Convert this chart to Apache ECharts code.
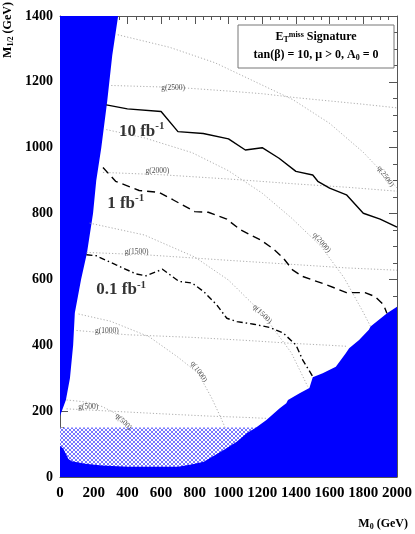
<!DOCTYPE html>
<html>
<head>
<meta charset="utf-8">
<script src="https://cdn.jsdelivr.net/npm/echarts@6/dist/echarts.min.js"></script>
<style>
html,body{margin:0;padding:0;background:#fff}
#main{width:415px;height:534px}
</style>
</head>
<body>
<div id="main"></div>
<script>
// excluded regions (M0, M1/2)
var leftRegion = [[0,1400],[345,1400],[310,1280],[280,1140],[245,1000],[215,900],[196,800],[160,680],[125,600],[88,498],[78,400],[59,300],[35,234],[0,185]];
var bottomRegion = [[0,0],[0,95],[20,86],[35,70],[50,55],[70,48],[150,40],[250,35],[400,31],[700,31],[780,38],[853,46],[971,82],[1049,107],[1108,133],[1166,151],[1225,173],[1304,209],[1343,224],[1353,234],[1422,254],[1480,270],[1500,303],[1559,315],[1637,335],[1696,376],[1716,391],[1775,416],[1833,447],[1843,457],[1941,497],[2000,517],[2000,0]];
var hatchRegion = [[0,0],[0,150],[1200,150],[1200,0]];

// discovery reach
var lumi10 = [[275,1130],[400,1118],[600,1110],[700,1049],[850,1043],[1000,1027],[1100,993],[1200,1000],[1300,968],[1400,928],[1500,917],[1530,898],[1600,877],[1700,857],[1800,801],[1900,783],[2000,759]];
var lumi1 = [[255,940],[330,898],[470,870],[590,864],[670,842],[800,806],[880,804],[990,783],[1070,751],[1190,720],[1265,693],[1325,665],[1380,629],[1440,609],[1580,584],[1700,560],[1810,560],[1870,548],[1920,523],[1940,497]];
var lumi01 = [[157,675],[215,672],[333,644],[450,617],[510,611],[608,631],[706,594],[784,589],[853,563],[930,523],[990,482],[1050,472],[1150,464],[1245,454],[1325,437],[1400,401],[1440,356],[1500,305]];

// gluino / squark mass contours
var g2500 = [[304,1189],[700,1183],[1000,1172],[1200,1164],[1400,1152],[1600,1142],[1800,1132],[2000,1121]];
var g2000 = [[255,925],[600,918],[1000,905],[1400,890],[1700,880],[2000,868]];
var g1500 = [[157,682],[500,675],[1000,658],[1400,645],[1700,635],[2000,628]];
var g1000 = [[98,445],[400,432],[784,424],[1100,415],[1373,406],[1600,400],[1700,397]];
var g500 = [[39,207],[300,200],[600,192],[882,185],[1100,181],[1230,178]];
var q2500 = [[343,1343],[650,1305],[920,1258],[1180,1195],[1382,1146],[1600,1074],[1800,986],[2000,878]];
var q2000 = [[275,1055],[500,1030],[784,985],[1000,930],[1200,862],[1373,787],[1550,700],[1686,605],[1800,500],[1843,457]];
var q1500 = [[176,771],[500,735],[800,668],[1000,598],[1200,497],[1373,377],[1470,275]];
var q1000 = [[110,495],[300,473],[529,426],[700,364],[820,315],[900,240],[950,185],[980,150]];
var q500 = [[39,234],[150,228],[250,214],[330,193],[400,168],[431,151]];

var contourLabels = [
  {name:'g(2500)', value:[671,1181], rot:0},
  {name:'g(2000)', value:[578,928], rot:0},
  {name:'g(1500)', value:[455,682], rot:0},
  {name:'g(1000)', value:[278,442], rot:0},
  {name:'g(500)', value:[167,214], rot:0},
  {name:'q(2500)', value:[1931,913], rot:-55},
  {name:'q(2000)', value:[1553,712], rot:-50},
  {name:'q(1500)', value:[1200,495], rot:-45},
  {name:'q(1000)', value:[824,320], rot:-55},
  {name:'q(500)', value:[376,168], rot:-45}
];
var lumiLabels = [
  {name:'10', value:[485,1052]},
  {name:'1', value:[390,834]},
  {name:'0.1', value:[363,571]}
];

var serif = 'Liberation Serif, Times New Roman, serif';
var axisColor = '#555';

// cross-hatch pattern
var hatch = document.createElement('canvas');
hatch.width = 4; hatch.height = 4;
var hc = hatch.getContext('2d');
hc.fillStyle = '#fff';
hc.fillRect(0,0,4,4);
hc.fillStyle = '#7878ff';
for (var i = 0; i < 4; i++) {
  hc.fillRect(i, i, 1, 1);
  hc.fillRect(3 - i, i, 1, 1);
}

function region(pts, fill, z) {
  return {
    type: 'custom', coordinateSystem: 'cartesian2d', silent: true, z: z,
    data: [[0,0]],
    renderItem: function (params, api) {
      return {
        type: 'polygon',
        shape: {points: pts.map(function (p) { return api.coord(p); })},
        style: {fill: fill}
      };
    }
  };
}

function contour(pts) {
  return {
    type: 'line', data: pts, showSymbol: false, silent: true, z: 4,
    lineStyle: {color: '#999', width: 0.8, type: [1.2, 2]}
  };
}

function lumi(pts, dash, w) {
  return {
    type: 'line', data: pts, showSymbol: false, silent: true, z: 6,
    lineStyle: {color: '#000', width: w, type: dash}
  };
}

function plain(v) { return String(v); }

function xAx(pos) {
  return {
    type: 'value', min: 0, max: 2000, interval: 200, position: pos,
    axisLine: {show: true, onZero: false, lineStyle: {color: axisColor}},
    axisTick: {show: true, inside: true, length: 8, lineStyle: {color: axisColor}},
    minorTick: {show: true, splitNumber: 4, length: 4, lineStyle: {color: axisColor}},
    axisLabel: {show: pos === 'bottom', formatter: plain, hideOverlap: false, showMinLabel: true, showMaxLabel: true,
      fontFamily: serif, fontWeight: 'bold', fontSize: 15, color: '#000', margin: 9},
    splitLine: {show: false}, minorSplitLine: {show: false}
  };
}
function yAx(pos) {
  return {
    type: 'value', min: 0, max: 1400, interval: 200, position: pos,
    axisLine: {show: true, onZero: false, lineStyle: {color: axisColor}},
    axisTick: {show: true, inside: true, length: 8, lineStyle: {color: axisColor}},
    minorTick: {show: true, splitNumber: 4, length: 4, lineStyle: {color: axisColor}},
    axisLabel: {show: pos === 'left', formatter: plain, fontFamily: serif, fontWeight: 'bold', fontSize: 14, color: '#000', margin: 7},
    splitLine: {show: false}, minorSplitLine: {show: false}
  };
}

var subStyle = {fontSize: 8, fontWeight: 'bold', fontFamily: serif, fill: '#000', verticalAlign: 'bottom', padding: [5,0,0,0]};
var supStyle = {fontSize: 8, fontWeight: 'bold', fontFamily: serif, fill: '#000', verticalAlign: 'bottom', padding: [0,0,5,0]};

var chart = echarts.init(document.getElementById('main'));
chart.setOption({
  animation: false,
  backgroundColor: '#fff',
  grid: {left: 60, right: 14, top: 16, bottom: 57},
  xAxis: [xAx('bottom'), xAx('top')],
  yAxis: [yAx('left'), yAx('right')],
  series: [
    region(hatchRegion, {image: hatch, repeat: 'repeat'}, 1),
    region(leftRegion, '#0000ff', 2),
    region(bottomRegion, '#0000ff', 2),
    contour(g2500), contour(g2000), contour(g1500), contour(g1000), contour(g500),
    contour(q2500), contour(q2000), contour(q1500), contour(q1000), contour(q500),
    lumi(lumi10, 'solid', 1.4),
    lumi(lumi1, [8, 5], 1.4),
    lumi(lumi01, [6, 3, 1.5, 3], 1.4),
    {
      type: 'scatter', symbolSize: 0, silent: true, z: 7,
      data: contourLabels.map(function (d) {
        return {name: d.name, value: d.value, label: {rotate: d.rot}};
      }),
      label: {show: true, position: 'inside', formatter: '{b}', fontFamily: serif, fontSize: 7.5, color: '#222'}
    },
    {
      type: 'scatter', symbolSize: 0, silent: true, z: 8,
      data: lumiLabels,
      label: {
        show: true, position: 'inside', formatter: '{a|{b} fb}{s|-1}',
        rich: {
          a: {fontFamily: serif, fontWeight: 'bold', fontSize: 17, color: '#000', verticalAlign: 'bottom'},
          s: {fontFamily: serif, fontWeight: 'bold', fontSize: 11, color: '#000', verticalAlign: 'bottom', padding: [0,0,8,0]}
        }
      }
    }
  ],
  graphic: [
    {type: 'rect', shape: {x: 238, y: 25, width: 156, height: 43}, style: {fill: '#fff', stroke: '#777', lineWidth: 1}, z: 10},
    {type: 'text', x: 316, y: 37, z: 11, style: {
      text: 'E{sub|T}{sup|miss} Signature', align: 'center', verticalAlign: 'middle',
      font: 'bold 12px ' + serif, fill: '#000',
      rich: {sub: subStyle, sup: supStyle}
    }},
    {type: 'text', x: 316, y: 55, z: 11, style: {
      text: 'tan(β) = 10, μ > 0, A{sub|0} = 0', align: 'center', verticalAlign: 'middle',
      font: 'bold 12px ' + serif, fill: '#000',
      rich: {sub: subStyle}
    }},
    {type: 'text', x: 8, y: 30, rotation: Math.PI / 2, z: 11, style: {
      text: 'M{sub|1/2} (GeV)', align: 'center', verticalAlign: 'middle',
      font: 'bold 12px ' + serif, fill: '#000',
      rich: {sub: subStyle}
    }},
    {type: 'text', x: 408, y: 524, z: 11, style: {
      text: 'M{sub|0} (GeV)', align: 'right', verticalAlign: 'middle',
      font: 'bold 12px ' + serif, fill: '#000',
      rich: {sub: subStyle}
    }}
  ]
});
</script>
</body>
</html>
